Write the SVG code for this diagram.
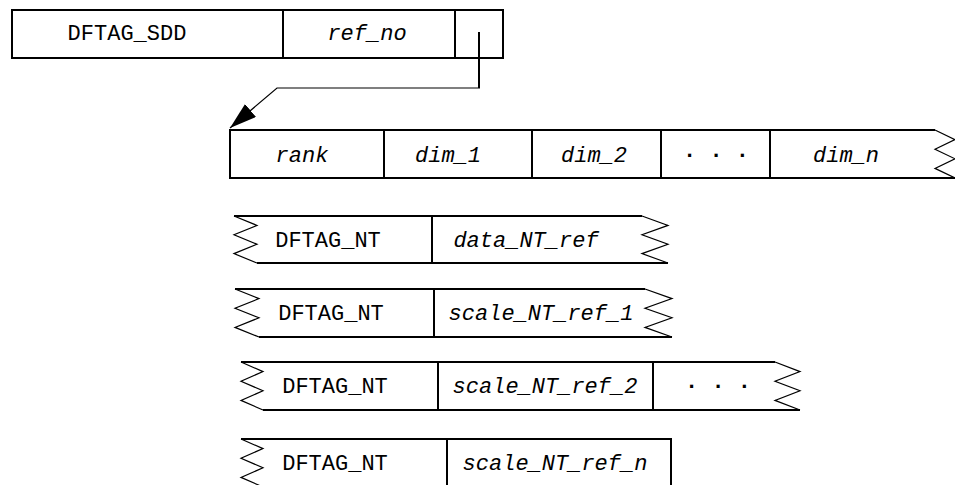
<svg xmlns="http://www.w3.org/2000/svg" width="955" height="485" viewBox="0 0 955 485">
<style>
text{font-family:"Liberation Mono","Courier New",monospace;font-size:22px;fill:#000;text-anchor:middle}
.i{font-style:italic}
.b{fill:none;stroke:#000;stroke-width:2}
.z{fill:none;stroke:#000;stroke-width:1.2;stroke-linejoin:miter}
.d{fill:none;stroke:#000;stroke-width:2}
.c{fill:none;stroke:#000}
</style>
<defs>
<marker id="ah" markerUnits="userSpaceOnUse" viewBox="0 0 27 17" markerWidth="27" markerHeight="17" refX="27" refY="8.5" orient="auto">
<path d="M0,0 L27,8.5 L0,17 z" fill="#000"/>
</marker>
</defs>
<rect width="955" height="485" fill="#fff"/>

<g id="sdd">
<rect class="b" x="12" y="10" width="491" height="48"/>
<line class="d" x1="283" y1="10" x2="283" y2="58"/>
<line class="d" x1="455" y1="10" x2="455" y2="58"/>
<text x="127" y="40">DFTAG_SDD</text>
<text class="i" x="367" y="40">ref_no</text>
</g>

<g id="dims">
<path class="b" d="M935,130 H230 V178 H955"/>
<polyline class="z" points="935,130 955,139.6 935,149.2 955,158.8 935,168.4 955,178"/>
<line class="d" x1="384" y1="130" x2="384" y2="178"/>
<line class="d" x1="532" y1="130" x2="532" y2="178"/>
<line class="d" x1="661" y1="130" x2="661" y2="178"/>
<line class="d" x1="770" y1="130" x2="770" y2="178"/>
<text class="i" x="302" y="162">rank</text>
<text class="i" x="448" y="162">dim_1</text>
<text class="i" x="594" y="162">dim_2</text>
<text x="716" y="162" font-weight="bold">· · ·</text>
<text class="i" x="846" y="162">dim_n</text>
</g>

<g id="data_nt">
<line class="b" x1="234" y1="216" x2="642" y2="216"/>
<line class="b" x1="257" y1="263" x2="668" y2="263"/>
<polyline class="z" points="234,216 257,225.4 234,234.8 257,244.2 234,253.6 257,263"/>
<polyline class="z" points="642,216 668,225.4 642,234.8 668,244.2 642,253.6 668,263"/>
<line class="d" x1="432" y1="216" x2="432" y2="263"/>
<text x="328" y="247">DFTAG_NT</text>
<text class="i" x="526" y="247">data_NT_ref</text>
</g>

<g id="scale_nt_1">
<line class="b" x1="235" y1="289" x2="645" y2="289"/>
<line class="b" x1="259" y1="337" x2="672" y2="337"/>
<polyline class="z" points="235,289 259,298.6 235,308.2 259,317.8 235,327.4 259,337"/>
<polyline class="z" points="645,289 672,298.6 645,308.2 672,317.8 645,327.4 672,337"/>
<line class="d" x1="434" y1="289" x2="434" y2="337"/>
<text x="331" y="320">DFTAG_NT</text>
<text class="i" x="541" y="320">scale_NT_ref_1</text>
</g>

<g id="scale_nt_2">
<line class="b" x1="241" y1="362" x2="775" y2="362"/>
<line class="b" x1="263" y1="410" x2="800" y2="410"/>
<polyline class="z" points="241,362 263,371.6 241,381.2 263,390.8 241,400.4 263,410"/>
<polyline class="z" points="775,362 800,371.6 775,381.2 800,390.8 775,400.4 800,410"/>
<line class="d" x1="438" y1="362" x2="438" y2="410"/>
<line class="d" x1="653" y1="362" x2="653" y2="410"/>
<text x="335" y="393">DFTAG_NT</text>
<text class="i" x="545" y="393">scale_NT_ref_2</text>
<text x="718" y="393" font-weight="bold">· · ·</text>
</g>

<g id="scale_nt_n">
<path class="b" d="M241,439 H671 V487 H263"/>
<polyline class="z" points="241,439 263,448.6 241,458.2 263,467.8 241,477.4 263,487"/>
<line class="d" x1="447" y1="439" x2="447" y2="487"/>
<text x="335" y="470">DFTAG_NT</text>
<text class="i" x="555" y="470">scale_NT_ref_n</text>
</g>

<g id="connectors">
<path class="c" d="M479,32 V88" stroke-width="2"/>
<path class="c" d="M480,88 H277 L230,128" stroke-width="1.2" marker-end="url(#ah)"/>
</g>
</svg>
